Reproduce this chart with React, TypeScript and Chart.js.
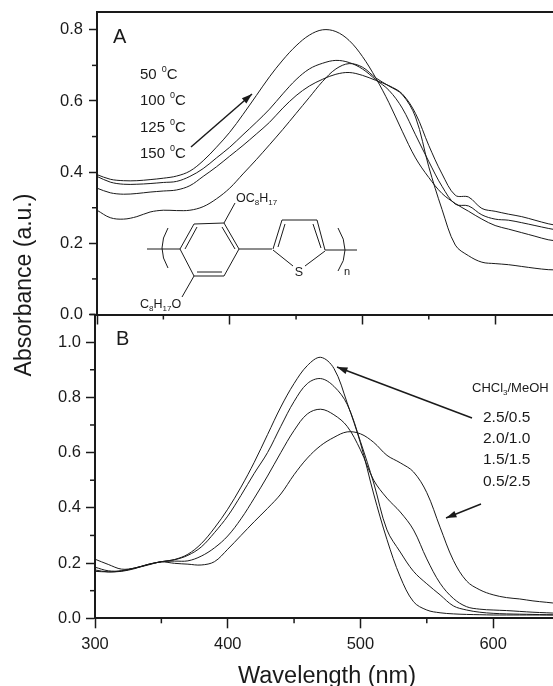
import React, { useEffect, useRef } from "react";
import { Chart, registerables } from "chart.js";

Chart.register(...registerables);

const wavelengths = [300,310,320,330,340,350,360,370,380,390,400,410,420,430,440,450,460,470,480,490,500,510,520,530,540,550,560,570,580,590,600,610,620,630,640,650];

const heat150 = [.393,.38,.376,.376,.379,.383,.389,.403,.432,.47,.512,.562,.615,.668,.715,.755,.785,.8,.795,.77,.725,.665,.595,.515,.44,.385,.34,.312,.29,.268,.25,.24,.23,.22,.21,.205];
const heat125 = [.388,.372,.366,.366,.368,.371,.374,.388,.41,.44,.47,.505,.54,.577,.62,.66,.69,.706,.714,.708,.69,.66,.63,.58,.505,.43,.36,.31,.305,.28,.268,.265,.258,.25,.242,.235];
const heat100 = [.355,.342,.338,.34,.344,.347,.35,.362,.388,.415,.445,.475,.507,.54,.58,.615,.642,.661,.675,.68,.672,.658,.643,.62,.565,.475,.395,.335,.33,.298,.29,.282,.275,.265,.255,.248];
const heat50 = [.293,.272,.268,.275,.288,.293,.292,.293,.303,.325,.355,.395,.435,.477,.52,.565,.61,.655,.69,.705,.695,.665,.642,.618,.555,.415,.295,.195,.165,.147,.143,.14,.135,.13,.126,.125];

const mix25 = [.185,.172,.172,.182,.195,.205,.213,.232,.27,.327,.395,.475,.565,.665,.765,.85,.915,.945,.905,.78,.635,.45,.285,.15,.06,.03,.02,.016,.014,.013,.012,.012,.012,.012,.012,.012];
const mix20 = [.175,.168,.172,.182,.195,.205,.212,.228,.258,.31,.37,.445,.525,.6,.695,.785,.85,.868,.84,.775,.64,.49,.32,.24,.17,.125,.085,.045,.03,.022,.018,.016,.015,.014,.013,.012];
const mix15 = [.17,.168,.17,.18,.195,.205,.207,.208,.225,.255,.298,.36,.435,.515,.6,.68,.74,.757,.737,.695,.61,.5,.435,.385,.32,.215,.127,.072,.042,.033,.03,.028,.025,.022,.02,.018];
const mix05 = [.214,.195,.178,.182,.193,.204,.199,.196,.193,.205,.25,.3,.35,.398,.45,.52,.58,.625,.655,.675,.668,.637,.59,.563,.53,.455,.33,.21,.135,.103,.085,.075,.07,.063,.058,.053];

const tempLabels = ["50", "100", "125", "150"];
const mixLabels = ["2.5/0.5", "2.0/1.0", "1.5/1.5", "0.5/2.5"];

const INK = "#1a1a1a";
const FONT = '"Liberation Sans", Arial, sans-serif';
const W = 553;
const H = 686;

type Ctx = CanvasRenderingContext2D;

function text(ctx: Ctx, s: string, x: number, y: number, size: number, align: CanvasTextAlign = "left") {
  ctx.font = `${size}px ${FONT}`;
  ctx.textAlign = align;
  ctx.textBaseline = "alphabetic";
  ctx.fillStyle = INK;
  ctx.fillText(s, x, y);
  return ctx.measureText(s).width;
}

// Draws runs of [text, kind]; kind is "n" normal, "s" subscript, "u" superscript.
function runs(ctx: Ctx, parts: [string, string][], x: number, y: number, size: number, small: number) {
  let cx = x;
  for (const [s, kind] of parts) {
    const dy = kind === "s" ? small * 0.35 : kind === "u" ? -size * 0.5 : 0;
    cx += text(ctx, s, cx, y + dy, kind === "n" ? size : small);
  }
}

function line(ctx: Ctx, x0: number, y0: number, x1: number, y1: number, w = 1) {
  ctx.strokeStyle = INK;
  ctx.lineWidth = w;
  ctx.beginPath();
  ctx.moveTo(x0, y0);
  ctx.lineTo(x1, y1);
  ctx.stroke();
}

function arrow(ctx: Ctx, x0: number, y0: number, x1: number, y1: number) {
  line(ctx, x0, y0, x1, y1, 1.5);
  const a = Math.atan2(y1 - y0, x1 - x0);
  const len = 11;
  const spread = 0.32;
  ctx.fillStyle = INK;
  ctx.beginPath();
  ctx.moveTo(x1, y1);
  ctx.lineTo(x1 - len * Math.cos(a - spread), y1 - len * Math.sin(a - spread));
  ctx.lineTo(x1 - len * Math.cos(a + spread), y1 - len * Math.sin(a + spread));
  ctx.closePath();
  ctx.fill();
}

function paren(ctx: Ctx, x0: number, y0: number, xm: number, ym: number, x1: number, y1: number) {
  ctx.strokeStyle = INK;
  ctx.lineWidth = 1;
  ctx.beginPath();
  ctx.moveTo(x0, y0);
  ctx.quadraticCurveTo(2 * xm - (x0 + x1) / 2, 2 * ym - (y0 + y1) / 2, x1, y1);
  ctx.stroke();
}

function minorTicks(ctx: Ctx, chart: any) {
  const area = chart.chartArea;
  const y = chart.scales.y;
  const x = chart.scales.x;
  for (let v = 0.1; v < y.max; v += 0.2) {
    const py = y.getPixelForValue(v);
    line(ctx, area.left - 5, py, area.left, py, 1.5);
  }
  for (let v = 350; v < x.max; v += 100) {
    const px = x.getPixelForValue(v);
    line(ctx, px, area.bottom, px, area.bottom + 5, 1.5);
  }
}

function drawMolecule(ctx: Ctx) {
  const bonds = [
    [147, 249, 180, 249], [180, 249, 194, 224], [194, 224, 224, 223], [224, 223, 239, 249],
    [239, 249, 224, 276], [224, 276, 194, 276], [194, 276, 180, 249],
    [185, 249, 197, 227], [222, 227, 235, 249], [197, 272, 222, 272],
    [239, 249, 272, 249], [273, 249, 282, 220], [282, 220, 317, 220], [317, 220, 325, 250],
    [278, 247, 285, 224], [313, 224, 321, 248],
    [273, 250, 293, 266], [305, 266, 325, 251], [325, 250, 357, 250],
    [224, 223, 235, 203], [194, 276, 182, 297],
  ];
  for (const b of bonds) line(ctx, b[0], b[1], b[2], b[3], 1);
  paren(ctx, 168, 228, 162, 248, 168, 268);
  paren(ctx, 338, 228, 345, 250, 338, 271);
  runs(ctx, [["OC", "n"], ["8", "s"], ["H", "n"], ["17", "s"]], 236, 202, 12.5, 8);
  runs(ctx, [["C", "n"], ["8", "s"], ["H", "n"], ["17", "s"], ["O", "n"]], 140, 308, 12.5, 8);
  text(ctx, "S", 299, 276, 12.5, "center");
  text(ctx, "n", 344, 275, 11);
}

const panelAPlugin = {
  id: "panelA",
  afterDraw(chart: any) {
    const ctx: Ctx = chart.ctx;
    const area = chart.chartArea;
    ctx.save();
    line(ctx, area.left - 1, area.top, W, area.top, 2);
    minorTicks(ctx, chart);
    text(ctx, "A", 113, 43, 20);
    const baselines = [79, 105, 131.5, 157.5];
    tempLabels.forEach((t, i) => {
      const w = text(ctx, t, 140, baselines[i], 15);
      text(ctx, "0", 140 + w + 5, baselines[i] - 7, 9);
      text(ctx, "C", 140 + w + 10, baselines[i], 15);
    });
    arrow(ctx, 191, 147, 252, 94);
    drawMolecule(ctx);
    ctx.translate(31, 285);
    ctx.rotate(-Math.PI / 2);
    text(ctx, "Absorbance (a.u.)", 0, 0, 23, "center");
    ctx.restore();
  },
};

const panelBPlugin = {
  id: "panelB",
  afterDraw(chart: any) {
    const ctx: Ctx = chart.ctx;
    ctx.save();
    minorTicks(ctx, chart);
    text(ctx, "B", 116, 345, 20);
    runs(ctx, [["CHCl", "n"], ["3", "s"], ["/MeOH", "n"]], 472, 392, 13, 8);
    const baselines = [422, 443, 464, 486];
    mixLabels.forEach((t, i) => text(ctx, t, 483, baselines[i], 15.5));
    arrow(ctx, 472, 418, 337, 367);
    arrow(ctx, 481, 504, 446, 518);
    text(ctx, "Wavelength (nm)", 327, 683, 23.5, "center");
    ctx.restore();
  },
};

function makeDatasets(series: number[][]) {
  return series.map((values, i) => ({
    label: `series ${i + 1}`,
    data: wavelengths.map((x, j) => ({ x, y: values[j] })),
    borderColor: INK,
    borderWidth: 1,
    pointRadius: 0,
    tension: 0.35,
    fill: false,
  }));
}

const X_BOX = 40;

function makeOptions(o: {
  left: number; top: number; bottom: number; xMax: number; yMax: number;
  xLabels: boolean; xTick: number; yTick: number; yPad: number;
}) {
  return {
    responsive: false,
    animation: false as const,
    layout: { padding: { left: 0, top: o.top, right: 0, bottom: H - o.bottom - X_BOX } },
    plugins: { legend: { display: false }, tooltip: { enabled: false } },
    scales: {
      x: {
        type: "linear" as const,
        min: 300,
        max: o.xMax,
        afterFit: (s: any) => { s.height = X_BOX; s.paddingLeft = 0; s.paddingRight = 0; },
        border: { display: true, color: INK, width: 2 },
        grid: { drawOnChartArea: false, drawTicks: true, tickLength: o.xTick, tickColor: INK, tickWidth: 1.5 },
        ticks: {
          display: o.xLabels,
          stepSize: 100,
          includeBounds: false,
          maxRotation: 0,
          padding: 6,
          color: INK,
          font: { family: FONT, size: 16.5 },
        },
      },
      y: {
        type: "linear" as const,
        min: 0,
        max: o.yMax,
        afterFit: (s: any) => { s.width = o.left; s.paddingTop = 0; s.paddingBottom = 0; },
        border: { display: true, color: INK, width: 2 },
        grid: { drawOnChartArea: false, drawTicks: true, tickLength: o.yTick, tickColor: INK, tickWidth: 1.5 },
        ticks: {
          stepSize: 0.2,
          includeBounds: false,
          padding: o.yPad,
          color: INK,
          callback: (v: any) => Number(v).toFixed(1),
          font: { family: FONT, size: 16.5 },
        },
      },
    },
  };
}

export default function App() {
  const refA = useRef<HTMLCanvasElement>(null);
  const refB = useRef<HTMLCanvasElement>(null);

  useEffect(() => {
    const a = new Chart(refA.current!, {
      type: "line",
      data: { datasets: makeDatasets([heat150, heat125, heat100, heat50]) },
      options: makeOptions({ left: 97, top: 12, bottom: 314.5, xMax: 643.6, yMax: 0.85, xLabels: false, xTick: 10, yTick: 8, yPad: 6 }) as any,
      plugins: [panelAPlugin],
    });
    const b = new Chart(refB.current!, {
      type: "line",
      data: { datasets: makeDatasets([mix25, mix20, mix15, mix05]) },
      options: makeOptions({ left: 95, top: 314.5, bottom: 618.3, xMax: 645.1, yMax: 1.1, xLabels: true, xTick: 10, yTick: 9, yPad: 5 }) as any,
      plugins: [panelBPlugin],
    });
    return () => {
      a.destroy();
      b.destroy();
    };
  }, []);

  const style: React.CSSProperties = { position: "absolute", left: 0, top: 0, display: "block" };
  return (
    <div style={{ position: "absolute", left: 0, top: 0, width: W, height: H, overflow: "hidden", background: "#fff" }}>
      <canvas ref={refA} width={W} height={H} style={style} />
      <canvas ref={refB} width={W} height={H} style={style} />
    </div>
  );
}
